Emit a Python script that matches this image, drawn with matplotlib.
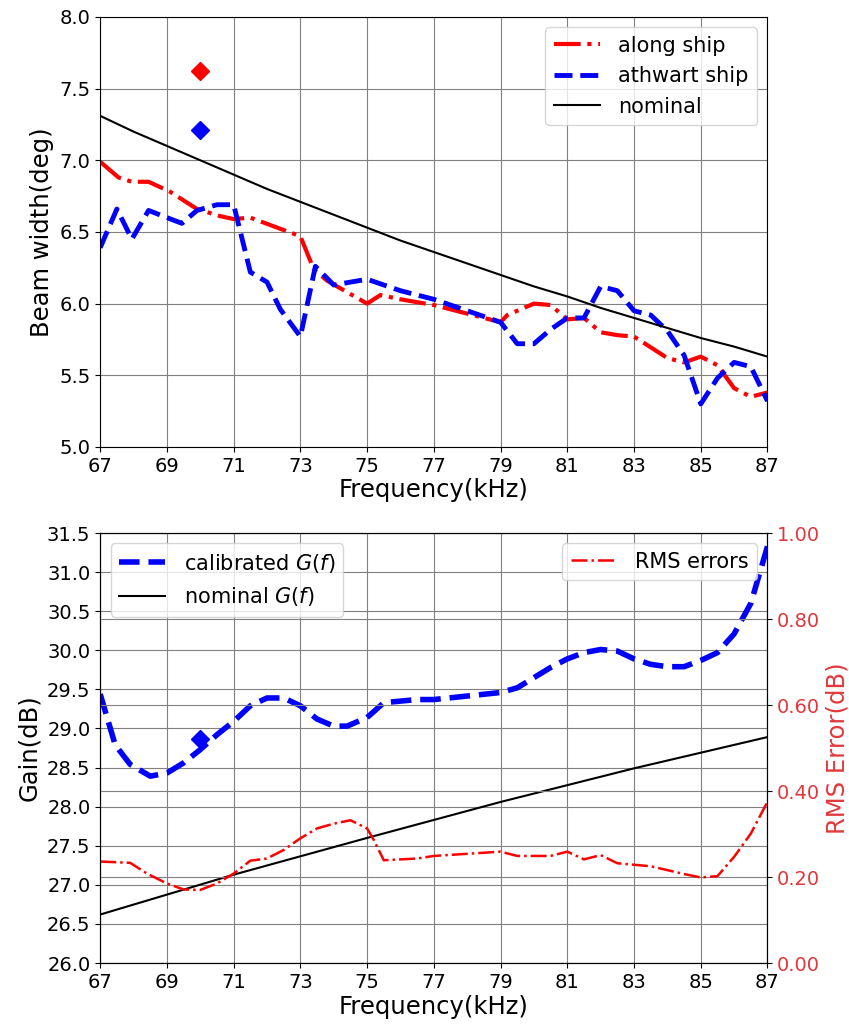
import matplotlib
matplotlib.use("Agg")
import matplotlib.pyplot as plt

# beam width data (deg)
f_along = [67, 67.55, 67.95, 68.45, 69.1, 69.9, 70.6, 71.0, 71.5, 73.0, 73.4, 73.8,
           75.0, 75.4, 76.0, 77.0, 79.0, 79.2, 80.0, 80.5, 81.0, 81.5, 82.0, 82.5,
           83.0, 84.0, 84.5, 85.0, 85.5, 86.0, 86.5, 87.0]
along_ship = [6.99, 6.88, 6.85, 6.85, 6.78, 6.66, 6.61, 6.59, 6.60, 6.47, 6.24, 6.16,
              6.00, 6.06, 6.03, 5.99, 5.87, 5.92, 6.00, 5.99, 5.89, 5.90, 5.80, 5.78,
              5.77, 5.62, 5.59, 5.63, 5.57, 5.41, 5.35, 5.38]

f_athwart = [67, 67.5, 67.95, 68.45, 69.0, 69.45, 69.9, 70.5, 71.0, 71.5, 72.0, 72.4,
             73.0, 73.45, 74.0, 75.0, 76.0, 77.0, 79.0, 79.5, 80.0, 80.5, 81.0, 81.5,
             82.0, 82.5, 83.0, 83.5, 84.0, 84.5, 85.0, 85.5, 86.0, 86.5, 87.0]
athwart_ship = [6.39, 6.66, 6.45, 6.65, 6.60, 6.56, 6.65, 6.69, 6.69, 6.22, 6.15, 5.96,
                5.77, 6.26, 6.13, 6.17, 6.09, 6.03, 5.87, 5.72, 5.72, 5.82, 5.90, 5.90,
                6.12, 6.09, 5.95, 5.92, 5.81, 5.64, 5.30, 5.48, 5.59, 5.56, 5.32]

f_nom = list(range(67, 88))
nominal_bw = [7.31, 7.20, 7.10, 7.00, 6.90, 6.80, 6.71, 6.62, 6.53, 6.44, 6.36,
              6.28, 6.20, 6.12, 6.05, 5.97, 5.90, 5.83, 5.76, 5.70, 5.63]

f_mark = 70
along_mark = 7.62
athwart_mark = 7.21

# gain data (dB)
f_gain = [67, 67.45, 67.9, 68.5, 69.0, 69.5, 70.0, 70.5, 71.0, 71.5, 72.0, 72.5,
          73.0, 73.5, 74.0, 74.4, 75.0, 75.5, 76.0, 76.5, 77.0, 79.0, 79.5, 80.0,
          80.5, 81.0, 81.5, 82.0, 82.5, 83.0, 83.5, 84.0, 84.5, 85.0, 85.5, 86.0,
          86.5, 87.0]
gain_cal = [29.44, 28.79, 28.54, 28.39, 28.43, 28.56, 28.73, 28.92, 29.09, 29.29,
            29.39, 29.39, 29.29, 29.12, 29.03, 29.03, 29.14, 29.33, 29.35, 29.37,
            29.37, 29.46, 29.52, 29.65, 29.78, 29.89, 29.97, 30.01, 29.99, 29.89,
            29.82, 29.79, 29.79, 29.87, 29.97, 30.21, 30.60, 31.33]

f_gnom = [67, 71, 75, 79, 83, 87]
gain_nom = [26.62, 27.13, 27.60, 28.06, 28.49, 28.89]

gain_mark = 28.86

f_rms = [67, 67.9, 68.4, 69.0, 69.5, 70.0, 70.5, 71.0, 71.5, 72.0, 72.5, 73.0,
         73.5, 74.0, 74.5, 75.0, 75.2, 75.5, 76.5, 77.0, 79.0, 79.5, 80.5, 81.0,
         81.5, 82.0, 82.5, 83.5, 84.5, 85.0, 85.5, 86.0, 86.5, 87.0]
rms_err = [0.236, 0.233, 0.208, 0.185, 0.171, 0.170, 0.185, 0.208, 0.238, 0.243,
           0.263, 0.290, 0.313, 0.324, 0.332, 0.313, 0.286, 0.239, 0.243, 0.249,
           0.259, 0.249, 0.249, 0.259, 0.241, 0.251, 0.232, 0.225, 0.207, 0.199,
           0.202, 0.247, 0.301, 0.375]

xticks = list(range(67, 88, 2))
rms_color = "#e2383c"

fig = plt.figure(figsize=(8.49, 10.27), dpi=100)
ax1 = fig.add_axes([0.118, 0.5648, 0.786, 0.4187])
ax2 = fig.add_axes([0.118, 0.0623, 0.786, 0.4187])

# top panel
ax1.plot(f_along, along_ship, "r-.", lw=3, label="along ship")
ax1.plot(f_athwart, athwart_ship, "b--", lw=3.5, label="athwart ship")
ax1.plot(f_nom, nominal_bw, "k-", lw=1.5, label="nominal")
ax1.plot([f_mark], [along_mark], "rD", ms=9)
ax1.plot([f_mark], [athwart_mark], "bD", ms=9)
ax1.set_xlim(67, 87)
ax1.set_ylim(5.0, 8.0)
ax1.set_xticks(xticks)
ax1.set_yticks([5.0, 5.5, 6.0, 6.5, 7.0, 7.5, 8.0])
ax1.grid(True, color="0.5", lw=0.8)
ax1.tick_params(labelsize=14)
ax1.set_xlabel("Frequency(kHz)", fontsize=17.5, labelpad=2)
ax1.set_ylabel("Beam width(deg)", fontsize=17.5)
ax1.legend(loc="upper right", fontsize=15, handlelength=2.2, handletextpad=0.9)

# bottom panel
ax2.plot(f_gain, gain_cal, "b--", lw=4, label="calibrated $G(f)$")
ax2.plot(f_gnom, gain_nom, "k-", lw=1.5, label="nominal $G(f)$")
ax2.plot([f_mark], [gain_mark], "bD", ms=9)
ax2.set_xlim(67, 87)
ax2.set_ylim(26.0, 31.5)
ax2.set_xticks(xticks)
ax2.set_yticks([26.0 + 0.5 * i for i in range(12)])
ax2.grid(True, color="0.5", lw=0.8)
ax2.tick_params(labelsize=14)
ax2.set_xlabel("Frequency(kHz)", fontsize=17.5, labelpad=2)
ax2.set_ylabel("Gain(dB)", fontsize=17.5)
ax2.legend(loc="upper left", fontsize=15, handlelength=2.2, handletextpad=0.9)

ax3 = ax2.twinx()
ax3.plot(f_rms, rms_err, "-.", color="r", lw=1.8, label="RMS errors")
ax3.set_ylim(0, 1.0)
ax3.set_yticks([0, 0.2, 0.4, 0.6, 0.8, 1.0])
ax3.set_yticklabels(["%.2f" % v for v in [0, 0.2, 0.4, 0.6, 0.8, 1.0]])
ax3.grid(True, color="0.5", lw=0.8)
ax3.tick_params(labelsize=14, labelcolor=rms_color)
ax3.set_ylabel("RMS Error(dB)", fontsize=17.5, color=rms_color)
ax3.legend(loc="upper right", fontsize=15, handlelength=2.2, handletextpad=0.9)

fig.savefig("out.png", dpi=100)
